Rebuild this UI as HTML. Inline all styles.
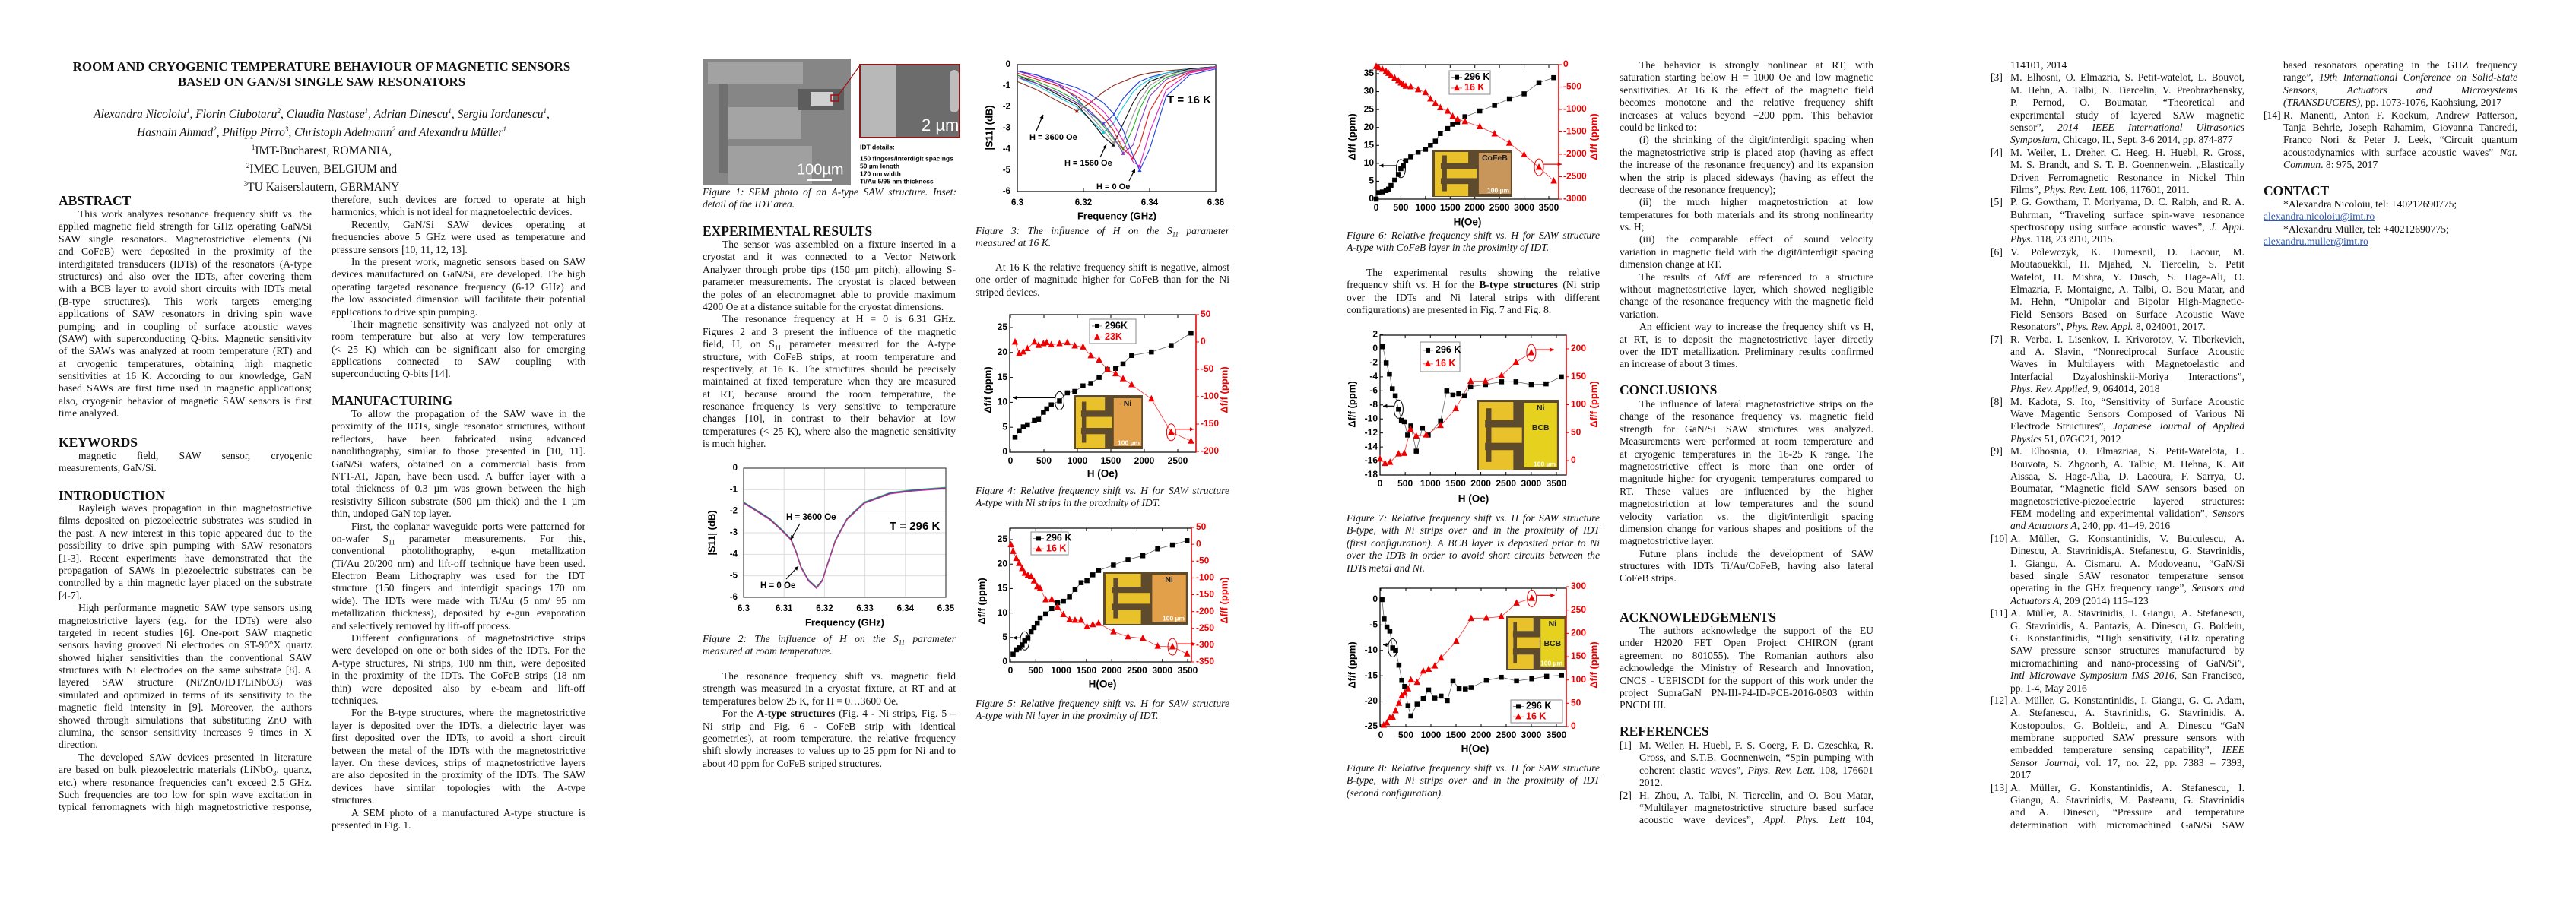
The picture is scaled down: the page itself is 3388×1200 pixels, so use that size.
<!DOCTYPE html>
<html><head><meta charset="utf-8"><title>Room and cryogenic temperature behaviour of magnetic sensors</title>
<style>
html,body{margin:0;padding:0;background:#fff}
body{width:3388px;height:1200px;position:relative;overflow:hidden}
#charts{position:absolute;left:0;top:0}
.b{position:absolute;font-family:"Liberation Serif",serif;font-size:13.6px;line-height:16.4px;color:#111}
.b>div{white-space:nowrap;text-align:justify;text-align-last:justify;height:16.4px;overflow:visible}
.b>div.e{text-align-last:left}
.b>div.c{text-align:center;text-align-last:center}
.b>div.i{text-indent:26px}
.cap{font-style:italic}
.r>div{padding-left:26px;position:relative}
.r>div>span.n{position:absolute;left:0;top:0}
.h{position:absolute;font-family:"Liberation Serif",serif;font-weight:bold;font-size:17.5px;line-height:20px;color:#111;white-space:nowrap}
.t{position:absolute;font-family:"Liberation Serif",serif;font-weight:bold;font-size:17px;line-height:19.5px;text-align:center;width:760px;left:43px;color:#111}
.au{position:absolute;font-family:"Liberation Serif",serif;font-size:15.5px;line-height:19.8px;text-align:center;width:760px;left:43px;color:#111}
a{color:#2b57b8;text-decoration:underline}
</style></head><body>
<svg id="charts" width="3388" height="1200" viewBox="0 0 3388 1200"></svg>

<!-- PAGE 1 -->
<div class="t" style="top:78px">ROOM AND CRYOGENIC TEMPERATURE BEHAVIOUR OF MAGNETIC SENSORS<br>BASED ON GAN/SI SINGLE SAW RESONATORS</div>
<div class="au" style="top:137px"><i>Alexandra Nicoloiu<sup style="font-size:9px">1</sup>, Florin Ciubotaru<sup style="font-size:9px">2</sup>, Claudia Nastase<sup style="font-size:9px">1</sup>, Adrian Dinescu<sup style="font-size:9px">1</sup>, Sergiu Iordanescu<sup style="font-size:9px">1</sup>,<br>Hasnain Ahmad<sup style="font-size:9px">2</sup>, Philipp Pirro<sup style="font-size:9px">3</sup>, Christoph Adelmann<sup style="font-size:9px">2</sup> and Alexandru Müller<sup style="font-size:9px">1</sup></i><br><sup style="font-size:9px">1</sup>IMT-Bucharest, ROMANIA,<br><sup style="font-size:9px">2</sup>IMEC Leuven, BELGIUM and<br><sup style="font-size:9px">3</sup>TU Kaiserslautern, GERMANY</div>

<div class="h" style="left:77px;top:254px">ABSTRACT</div>
<div class="b" style="left:77px;top:274px;width:333px">
<div class="i">This work analyzes resonance frequency shift vs. the</div>
<div>applied magnetic field strength for GHz operating GaN/Si</div>
<div>SAW single resonators. Magnetostrictive elements (Ni</div>
<div>and CoFeB) were deposited in the proximity of the</div>
<div>interdigitated transducers (IDTs) of the resonators (A-type</div>
<div>structures) and also over the IDTs, after covering them</div>
<div>with a BCB layer to avoid short circuits with IDTs metal</div>
<div>(B-type structures). This work targets emerging</div>
<div>applications of SAW resonators in driving spin wave</div>
<div>pumping and in coupling of surface acoustic waves</div>
<div>(SAW) with superconducting Q-bits. Magnetic sensitivity</div>
<div>of the SAWs was analyzed at room temperature (RT) and</div>
<div>at cryogenic temperatures, obtaining high magnetic</div>
<div>sensitivities at 16 K. According to our knowledge, GaN</div>
<div>based SAWs are first time used in magnetic applications;</div>
<div>also, cryogenic behavior of magnetic SAW sensors is first</div>
<div class="e">time analyzed.</div>
</div>
<div class="h" style="left:77px;top:572px">KEYWORDS</div>
<div class="b" style="left:77px;top:592px;width:333px">
<div class="i">magnetic field, SAW sensor, cryogenic</div>
<div class="e">measurements, GaN/Si.</div>
</div>
<div class="h" style="left:77px;top:642px">INTRODUCTION</div>
<div class="b" style="left:77px;top:661px;width:333px">
<div class="i">Rayleigh waves propagation in thin magnetostrictive</div>
<div>films deposited on piezoelectric substrates was studied in</div>
<div>the past. A new interest in this topic appeared due to the</div>
<div>possibility to drive spin pumping with SAW resonators</div>
<div>[1-3]. Recent experiments have demonstrated that the</div>
<div>propagation of SAWs in piezoelectric substrates can be</div>
<div>controlled by a thin magnetic layer placed on the substrate</div>
<div class="e">[4-7].</div>
<div class="i">High performance magnetic SAW type sensors using</div>
<div>magnetostrictive layers (e.g. for the IDTs) were also</div>
<div>targeted in recent studies [6]. One-port SAW magnetic</div>
<div>sensors having grooved Ni electrodes on ST-90°X quartz</div>
<div>showed higher sensitivities than the conventional SAW</div>
<div>structures with Ni electrodes on the same substrate [8]. A</div>
<div>layered SAW structure (Ni/ZnO/IDT/LiNbO3) was</div>
<div>simulated and optimized in terms of its sensitivity to the</div>
<div>magnetic field intensity in [9]. Moreover, the authors</div>
<div>showed through simulations that substituting ZnO with</div>
<div>alumina, the sensor sensitivity increases 9 times in X</div>
<div class="e">direction.</div>
<div class="i">The developed SAW devices presented in literature</div>
<div>are based on bulk piezoelectric materials (LiNbO<sub style="font-size:9px">3</sub>, quartz,</div>
<div>etc.) where resonance frequencies can’t exceed 2.5 GHz.</div>
<div>Such frequencies are too low for spin wave excitation in</div>
<div>typical ferromagnets with high magnetostrictive response,</div>
</div>

<div class="b" style="left:436px;top:255px;width:334px">
<div>therefore, such devices are forced to operate at high</div>
<div class="e">harmonics, which is not ideal for magnetoelectric devices.</div>
<div class="i">Recently, GaN/Si SAW devices operating at</div>
<div>frequencies above 5 GHz were used as temperature and</div>
<div class="e">pressure sensors [10, 11, 12, 13].</div>
<div class="i">In the present work, magnetic sensors based on SAW</div>
<div>devices manufactured on GaN/Si, are developed. The high</div>
<div>operating targeted resonance frequency (6-12 GHz) and</div>
<div>the low associated dimension will facilitate their potential</div>
<div class="e">applications to drive spin pumping.</div>
<div class="i">Their magnetic sensitivity was analyzed not only at</div>
<div>room temperature but also at very low temperatures</div>
<div>(&lt; 25 K) which can be significant also for emerging</div>
<div>applications connected to SAW coupling with</div>
<div class="e">superconducting Q-bits [14].</div>
</div>
<div class="h" style="left:436px;top:517px">MANUFACTURING</div>
<div class="b" style="left:436px;top:537px;width:334px">
<div class="i">To allow the propagation of the SAW wave in the</div>
<div>proximity of the IDTs, single resonator structures, without</div>
<div>reflectors, have been fabricated using advanced</div>
<div>nanolithography, similar to those presented in [10, 11].</div>
<div>GaN/Si wafers, obtained on a commercial basis from</div>
<div>NTT-AT, Japan, have been used. A buffer layer with a</div>
<div>total thickness of 0.3 µm was grown between the high</div>
<div>resistivity Silicon substrate (500 µm thick) and the 1 µm</div>
<div class="e">thin, undoped GaN top layer.</div>
<div class="i">First, the coplanar waveguide ports were patterned for</div>
<div>on-wafer S<sub style="font-size:9px">11</sub> parameter measurements. For this,</div>
<div>conventional photolithography, e-gun metallization</div>
<div>(Ti/Au 20/200 nm) and lift-off technique have been used.</div>
<div>Electron Beam Lithography was used for the IDT</div>
<div>structure (150 fingers and interdigit spacings 170 nm</div>
<div>wide). The IDTs were made with Ti/Au (5 nm/ 95 nm</div>
<div>metallization thickness), deposited by e-gun evaporation</div>
<div class="e">and selectively removed by lift-off process.</div>
<div class="i">Different configurations of magnetostrictive strips</div>
<div>were developed on one or both sides of the IDTs. For the</div>
<div>A-type structures, Ni strips, 100 nm thin, were deposited</div>
<div>in the proximity of the IDTs. The CoFeB strips (18 nm</div>
<div>thin) were deposited also by e-beam and lift-off</div>
<div class="e">techniques.</div>
<div class="i">For the B-type structures, where the magnetostrictive</div>
<div>layer is deposited over the IDTs, a dielectric layer was</div>
<div>first deposited over the IDTs, to avoid a short circuit</div>
<div>between the metal of the IDTs with the magnetostrictive</div>
<div>layer. On these devices, strips of magnetostrictive layers</div>
<div>are also deposited in the proximity of the IDTs. The SAW</div>
<div>devices have similar topologies with the A-type</div>
<div class="e">structures.</div>
<div class="i">A SEM photo of a manufactured A-type structure is</div>
<div class="e">presented in Fig. 1.</div>
</div>

<!-- PAGE 2 -->
<div class="b cap" style="left:924px;top:245px;width:334px">
<div>Figure 1: SEM photo of an A-type SAW structure. Inset:</div>
<div class="e">detail of the IDT area.</div>
</div>
<div class="h" style="left:924px;top:294px">EXPERIMENTAL RESULTS</div>
<div class="b" style="left:924px;top:314px;width:333px">
<div class="i">The sensor was assembled on a fixture inserted in a</div>
<div>cryostat and it was connected to a Vector Network</div>
<div>Analyzer through probe tips (150 µm pitch), allowing S-</div>
<div>parameter measurements. The cryostat is placed between</div>
<div>the poles of an electromagnet able to provide maximum</div>
<div class="e">4200 Oe at a distance suitable for the cryostat dimensions.</div>
<div class="i">The resonance frequency at H = 0 is 6.31 GHz.</div>
<div>Figures 2 and 3 present the influence of the magnetic</div>
<div>field, H, on S<sub style="font-size:9px">11</sub> parameter measured for the A-type</div>
<div>structure, with CoFeB strips, at room temperature and</div>
<div>respectively, at 16 K. The structures should be precisely</div>
<div>maintained at fixed temperature when they are measured</div>
<div>at RT, because around the room temperature, the</div>
<div>resonance frequency is very sensitive to temperature</div>
<div>changes [10], in contrast to their behavior at low</div>
<div>temperatures (&lt; 25 K), where also the magnetic sensitivity</div>
<div class="e">is much higher.</div>
</div>
<div class="b cap" style="left:924px;top:833px;width:333px">
<div>Figure 2: The influence of H on the S<sub style="font-size:9px">11</sub> parameter</div>
<div class="e">measured at room temperature.</div>
</div>
<div class="b" style="left:924px;top:882px;width:333px">
<div class="i">The resonance frequency shift vs. magnetic field</div>
<div>strength was measured in a cryostat fixture, at RT and at</div>
<div class="e">temperatures below 25 K, for H = 0…3600 Oe.</div>
<div class="i">For the <b>A-type structures</b> (Fig. 4 - Ni strips, Fig. 5 –</div>
<div>Ni strip and Fig. 6 - CoFeB strip with identical</div>
<div>geometries), at room temperature, the relative frequency</div>
<div>shift slowly increases to values up to 25 ppm for Ni and to</div>
<div class="e">about 40 ppm for CoFeB striped structures.</div>
</div>
<div class="b cap" style="left:1283px;top:296px;width:334px">
<div>Figure 3: The influence of H on the S<sub style="font-size:9px">11</sub> parameter</div>
<div class="e">measured at 16 K.</div>
</div>
<div class="b" style="left:1283px;top:344px;width:334px">
<div class="i">At 16 K the relative frequency shift is negative, almost</div>
<div>one order of magnitude higher for CoFeB than for the Ni</div>
<div class="e">striped devices.</div>
</div>
<div class="b cap" style="left:1283px;top:638px;width:334px">
<div>Figure 4: Relative frequency shift vs. H for SAW structure</div>
<div class="e">A-type with Ni strips in the proximity of IDT.</div>
</div>
<div class="b cap" style="left:1283px;top:918px;width:334px">
<div>Figure 5: Relative frequency shift vs. H for SAW structure</div>
<div class="e">A-type with Ni layer in the proximity of IDT.</div>
</div>

<!-- PAGE 3 -->
<div class="b cap" style="left:1771px;top:302px;width:333px">
<div>Figure 6: Relative frequency shift vs. H for SAW structure</div>
<div class="e">A-type with CoFeB layer in the proximity of IDT.</div>
</div>
<div class="b" style="left:1771px;top:351px;width:333px">
<div class="i">The experimental results showing the relative</div>
<div>frequency shift vs. H for the <b>B-type structures</b> (Ni strip</div>
<div>over the IDTs and Ni lateral strips with different</div>
<div class="e">configurations) are presented in Fig. 7 and Fig. 8.</div>
</div>
<div class="b cap" style="left:1771px;top:674px;width:333px">
<div>Figure 7: Relative frequency shift vs. H for SAW structure</div>
<div>B-type, with Ni strips over and in the proximity of IDT</div>
<div>(first configuration). A BCB layer is deposited prior to Ni</div>
<div>over the IDTs in order to avoid short circuits between the</div>
<div class="e">IDTs metal and Ni.</div>
</div>
<div class="b cap" style="left:1771px;top:1003px;width:333px">
<div>Figure 8: Relative frequency shift vs. H for SAW structure</div>
<div>B-type, with Ni strips over and in the proximity of IDT</div>
<div class="e">(second configuration).</div>
</div>

<div class="b" style="left:2130px;top:78px;width:334px">
<div class="i">The behavior is strongly nonlinear at RT, with</div>
<div>saturation starting below H = 1000 Oe and low magnetic</div>
<div>sensitivities. At 16 K the effect of the magnetic field</div>
<div>becomes monotone and the relative frequency shift</div>
<div>increases at values beyond +200 ppm. This behavior</div>
<div class="e">could be linked to:</div>
<div class="i">(i) the shrinking of the digit/interdigit spacing when</div>
<div>the magnetostrictive strip is placed atop (having as effect</div>
<div>the increase of the resonance frequency) and its expansion</div>
<div>when the strip is placed sideways (having as effect the</div>
<div class="e">decrease of the resonance frequency);</div>
<div class="i">(ii) the much higher magnetostriction at low</div>
<div>temperatures for both materials and its strong nonlinearity</div>
<div class="e">vs. H;</div>
<div class="i">(iii) the comparable effect of sound velocity</div>
<div>variation in magnetic field with the digit/interdigit spacing</div>
<div class="e">dimension change at RT.</div>
<div class="i">The results of Δf/f are referenced to a structure</div>
<div>without magnetostrictive layer, which showed negligible</div>
<div>change of the resonance frequency with the magnetic field</div>
<div class="e">variation.</div>
<div class="i">An efficient way to increase the frequency shift vs H,</div>
<div>at RT, is to deposit the magnetostrictive layer directly</div>
<div>over the IDT metallization. Preliminary results confirmed</div>
<div class="e">an increase of about 3 times.</div>
</div>
<div class="h" style="left:2130px;top:503px">CONCLUSIONS</div>
<div class="b" style="left:2130px;top:524px;width:334px">
<div class="i">The influence of lateral magnetostrictive strips on the</div>
<div>change of the resonance frequency vs. magnetic field</div>
<div>strength for GaN/Si SAW structures was analyzed.</div>
<div>Measurements were performed at room temperature and</div>
<div>at cryogenic temperatures in the 16-25 K range. The</div>
<div>magnetostrictive effect is more than one order of</div>
<div>magnitude higher for cryogenic temperatures compared to</div>
<div>RT. These values are influenced by the higher</div>
<div>magnetostriction at low temperatures and the sound</div>
<div>velocity variation vs. the digit/interdigit spacing</div>
<div>dimension change for various shapes and positions of the</div>
<div class="e">magnetostrictive layer.</div>
<div class="i">Future plans include the development of SAW</div>
<div>structures with IDTs Ti/Au/CoFeB, having also lateral</div>
<div class="e">CoFeB strips.</div>
</div>
<div class="h" style="left:2130px;top:802px">ACKNOWLEDGEMENTS</div>
<div class="b" style="left:2130px;top:822px;width:334px">
<div class="i">The authors acknowledge the support of the EU</div>
<div>under H2020 FET Open Project CHIRON (grant</div>
<div>agreement no 801055). The Romanian authors also</div>
<div>acknowledge the Ministry of Research and Innovation,</div>
<div>CNCS - UEFISCDI for the support of this work under the</div>
<div>project SupraGaN PN-III-P4-ID-PCE-2016-0803 within</div>
<div class="e">PNCDI III.</div>
</div>
<div class="h" style="left:2130px;top:952px">REFERENCES</div>
<div class="b r" style="left:2130px;top:973px;width:334px">
<div><span class="n">[1]</span>M. Weiler, H. Huebl, F. S. Goerg, F. D. Czeschka, R.</div>
<div>Gross, and S.T.B. Goennenwein, “Spin pumping with</div>
<div>coherent elastic waves”, <i>Phys. Rev. Lett.</i> 108, 176601</div>
<div class="e">2012.</div>
<div><span class="n">[2]</span>H. Zhou, A. Talbi, N. Tiercelin, and O. Bou Matar,</div>
<div>“Multilayer magnetostrictive structure based surface</div>
<div>acoustic wave devices”, <i>Appl. Phys. Lett</i> 104,</div>
</div>

<!-- PAGE 4 -->
<div class="b r" style="left:2618px;top:78px;width:334px">
<div class="e">114101, 2014</div>
<div><span class="n">[3]</span>M. Elhosni, O. Elmazria, S. Petit-watelot, L. Bouvot,</div>
<div>M. Hehn, A. Talbi, N. Tiercelin, V. Preobrazhensky,</div>
<div>P. Pernod, O. Boumatar, “Theoretical and</div>
<div>experimental study of layered SAW magnetic</div>
<div>sensor”, <i>2014 IEEE International Ultrasonics</i></div>
<div class="e"><i>Symposium</i>, Chicago, IL, Sept. 3-6 2014, pp. 874-877</div>
<div><span class="n">[4]</span>M. Weiler, L. Dreher, C. Heeg, H. Huebl, R. Gross,</div>
<div>M. S. Brandt, and S. T. B. Goennenwein, „Elastically</div>
<div>Driven Ferromagnetic Resonance in Nickel Thin</div>
<div class="e">Films”, <i>Phys. Rev. Lett.</i> 106, 117601, 2011.</div>
<div><span class="n">[5]</span>P. G. Gowtham, T. Moriyama, D. C. Ralph, and R. A.</div>
<div>Buhrman, “Traveling surface spin-wave resonance</div>
<div>spectroscopy using surface acoustic waves”, <i>J. Appl.</i></div>
<div class="e"><i>Phys.</i> 118, 233910, 2015.</div>
<div><span class="n">[6]</span>V. Polewczyk, K. Dumesnil, D. Lacour, M.</div>
<div>Moutaouekkil, H. Mjahed, N. Tiercelin, S. Petit</div>
<div>Watelot, H. Mishra, Y. Dusch, S. Hage-Ali, O.</div>
<div>Elmazria, F. Montaigne, A. Talbi, O. Bou Matar, and</div>
<div>M. Hehn, “Unipolar and Bipolar High-Magnetic-</div>
<div>Field Sensors Based on Surface Acoustic Wave</div>
<div class="e">Resonators”, <i>Phys. Rev. Appl.</i> 8, 024001, 2017.</div>
<div><span class="n">[7]</span>R. Verba. I. Lisenkov, I. Krivorotov, V. Tiberkevich,</div>
<div>and A. Slavin, “Nonreciprocal Surface Acoustic</div>
<div>Waves in Multilayers with Magnetoelastic and</div>
<div>Interfacial Dzyaloshinskii-Moriya Interactions”,</div>
<div class="e"><i>Phys. Rev. Applied</i>, 9, 064014, 2018</div>
<div><span class="n">[8]</span>M. Kadota, S. Ito, “Sensitivity of Surface Acoustic</div>
<div>Wave Magentic Sensors Composed of Various Ni</div>
<div>Electrode Structures”, <i>Japanese Journal of Applied</i></div>
<div class="e"><i>Physics</i> 51, 07GC21, 2012</div>
<div><span class="n">[9]</span>M. Elhosnia, O. Elmazriaa, S. Petit-Watelota, L.</div>
<div>Bouvota, S. Zhgoonb, A. Talbic, M. Hehna, K. Ait</div>
<div>Aissaa, S. Hage-Alia, D. Lacoura, F. Sarrya, O.</div>
<div>Boumatar, “Magnetic field SAW sensors based on</div>
<div>magnetostrictive-piezoelectric layered structures:</div>
<div>FEM modeling and experimental validation”, <i>Sensors</i></div>
<div class="e"><i>and Actuators A</i>, 240, pp. 41–49, 2016</div>
<div><span class="n">[10]</span>A. Müller, G. Konstantinidis, V. Buiculescu, A.</div>
<div>Dinescu, A. Stavrinidis,A. Stefanescu, G. Stavrinidis,</div>
<div>I. Giangu, A. Cismaru, A. Modoveanu, “GaN/Si</div>
<div>based single SAW resonator temperature sensor</div>
<div>operating in the GHz frequency range”, <i>Sensors and</i></div>
<div class="e"><i>Actuators A</i>, 209 (2014) 115–123</div>
<div><span class="n">[11]</span>A. Müller, A. Stavrinidis, I. Giangu, A. Stefanescu,</div>
<div>G. Stavrinidis, A. Pantazis, A. Dinescu, G. Boldeiu,</div>
<div>G. Konstantinidis, “High sensitivity, GHz operating</div>
<div>SAW pressure sensor structures manufactured by</div>
<div>micromachining and nano-processing of GaN/Si”,</div>
<div><i>Intl Microwave Symposium IMS 2016</i>, San Francisco,</div>
<div class="e">pp. 1-4, May 2016</div>
<div><span class="n">[12]</span>A. Müller, G. Konstantinidis, I. Giangu, G. C. Adam,</div>
<div>A. Stefanescu, A. Stavrinidis, G. Stavrinidis, A.</div>
<div>Kostopoulos, G. Boldeiu, and A. Dinescu “GaN</div>
<div>membrane supported SAW pressure sensors with</div>
<div>embedded temperature sensing capability”, <i>IEEE</i></div>
<div><i>Sensor Journal</i>, vol. 17, no. 22, pp. 7383 – 7393,</div>
<div class="e">2017</div>
<div><span class="n">[13]</span>A. Müller, G. Konstantinidis, A. Stefanescu, I.</div>
<div>Giangu, A. Stavrinidis, M. Pasteanu, G. Stavrinidis</div>
<div>and A. Dinescu, “Pressure and temperature</div>
<div>determination with micromachined GaN/Si SAW</div>
</div>
<div class="b r" style="left:2977px;top:78px;width:334px">
<div>based resonators operating in the GHZ frequency</div>
<div>range”, <i>19th International Conference on Solid-State</i></div>
<div><i>Sensors, Actuators and Microsystems</i></div>
<div class="e"><i>(TRANSDUCERS)</i>, pp. 1073-1076, Kaohsiung, 2017</div>
<div><span class="n">[14]</span>R. Manenti, Anton F. Kockum, Andrew Patterson,</div>
<div>Tanja Behrle, Joseph Rahamim, Giovanna Tancredi,</div>
<div>Franco Nori &amp; Peter J. Leek, “Circuit quantum</div>
<div>acoustodynamics with surface acoustic waves” <i>Nat.</i></div>
<div class="e"><i>Commun</i>. 8: 975, 2017</div>
</div>
<div class="h" style="left:2977px;top:241px">CONTACT</div>
<div class="b" style="left:2977px;top:261px;width:334px">
<div class="e i">*Alexandra Nicoloiu, tel: +40212690775;</div>
<div class="e"><a>alexandra.nicoloiu@imt.ro</a></div>
<div class="e i">*Alexandru Müller, tel: +40212690775;</div>
<div class="e"><a>alexandru.muller@imt.ro</a></div>
</div>

<script>
// ---------- DATA ----------
const fig2Freq = [6.300,6.303,6.3064,6.309,6.3117,6.313,6.3142,6.316,6.318,6.3195,6.3205,6.3227,6.3256,6.3299,6.3363,6.342,6.350];
const fig2S11  = [-1.6,-1.95,-2.35,-2.8,-3.3,-3.9,-4.6,-5.2,-5.55,-5.2,-4.6,-3.35,-2.35,-1.6,-1.16,-1.03,-0.92];
const fig2XTicks = [6.30,6.31,6.32,6.33,6.34,6.35];
const fig2XTickLabels = ['6.3','6.31','6.32','6.33','6.34','6.35'];
const fig2YTicks = [0,-1,-2,-3,-4,-5,-6];

const fig3Freq = [6.300,6.306,6.312,6.318,6.322,6.326,6.329,6.332,6.335,6.337,6.340,6.345,6.352,6.360];
const fig3H3600 = [-0.8,-1.2,-1.7,-2.2,-1.8,-1.3,-1.0,-0.8,-0.6,-0.5,-0.4,-0.3,-0.2,-0.1];
const fig3HB    = [-0.3,-0.5,-0.9,-1.6,-2.3,-2.8,-2.4,-1.6,-1.1,-0.8,-0.6,-0.4,-0.2,-0.1];
const fig3HC    = [-0.6,-1.0,-1.5,-2.0,-2.6,-3.2,-2.8,-2.0,-1.3,-1.0,-0.7,-0.4,-0.2,-0.1];
const fig3H1560 = [-0.5,-0.9,-1.4,-1.9,-2.6,-3.4,-3.8,-2.8,-1.8,-1.3,-0.8,-0.5,-0.2,-0.1];
const fig3HE    = [-0.6,-0.9,-1.3,-1.8,-2.4,-3.1,-3.7,-3.6,-2.4,-1.7,-1.0,-0.5,-0.25,-0.1];
const fig3HF    = [-0.5,-0.8,-1.2,-1.7,-2.2,-2.9,-3.5,-4.0,-3.0,-2.1,-1.2,-0.6,-0.3,-0.1];
const fig3HG    = [-0.6,-0.9,-1.3,-1.8,-2.2,-2.8,-3.4,-4.2,-3.8,-2.8,-1.5,-0.7,-0.3,-0.1];
const fig3HH    = [-0.4,-0.7,-1.0,-1.5,-1.9,-2.5,-3.1,-4.0,-4.4,-3.8,-2.2,-0.9,-0.35,-0.15];
const fig3HI    = [-0.3,-0.6,-0.9,-1.3,-1.7,-2.2,-2.8,-3.6,-4.6,-4.8,-3.2,-1.2,-0.4,-0.15];
const fig3H0    = [-0.3,-0.5,-0.8,-1.1,-1.4,-1.8,-2.3,-3.1,-4.3,-5.0,-4.0,-1.5,-0.5,-0.2];
const fig3XTicks = [6.30,6.32,6.34,6.36];
const fig3XTickLabels = ['6.3','6.32','6.34','6.36'];
const fig3YTicks = [0,-1,-2,-3,-4,-5,-6];

const fig4H     = [68,130,191,254,358,420,493,542,610,733,850,961,1084,1201,1325,1448,1572,1682,1811,2106,2402,2698];
const fig4Black = [3.0,4.3,5.1,5.5,6.4,6.6,8.0,8.7,9.5,10.3,11.9,12.2,13.3,13.8,15.0,16.6,16.8,17.7,19.4,20.1,21.4,23.9];
const fig4Red   = [0,-21,-18,-12,0,-6,-3,-1,-5,-3,-1,-7,-9,-25,-33,-50,-58,-67,-78,-104,-165,-181];
const fig4XTicks = [0,500,1000,1500,2000,2500];
const fig4LeftTicks = [0,5,10,15,20,25];
const fig4RightTicks = [50,0,-50,-100,-150,-200];

const fig5HBlack = [52,115,172,230,282,345,408,465,529,586,695,816,931,1046,1166,1276,1396,1511,1626,1741,2034,2322,2614,2908,3201,3488];
const fig5Black  = [1.6,2.5,2.9,3.5,4.3,4.9,6.2,7.0,7.9,9.0,9.8,10.9,12.1,12.4,13.3,14.8,16.2,16.6,17.8,18.7,19.8,20.9,21.7,23.1,23.9,24.8];
const fig5HRed   = [10,52,115,172,230,282,345,408,465,529,586,695,816,931,1046,1166,1276,1396,1511,1626,1741,2034,2322,2614,2908,3201,3488];
const fig5Red    = [-1,-21,-42,-57,-72,-86,-92,-96,-109,-126,-131,-165,-164,-187,-209,-224,-226,-226,-245,-239,-235,-260,-275,-280,-303,-305,-326];
const fig5XTicks = [0,500,1000,1500,2000,2500,3000,3500];
const fig5LeftTicks = [0,5,10,15,20,25];
const fig5RightTicks = [50,0,-50,-100,-150,-200,-250,-300,-350];

const fig6H     = [0,50,125,200,250,300,375,450,500,550,600,700,850,1000,1100,1200,1300,1450,1550,1650,1800,2100,2400,2700,3000,3300,3600];
const fig6Black = [0,1.8,2.0,2.4,2.8,3.8,5.3,6.9,8.5,9.3,10.7,11.8,13.1,13.9,15.0,16.2,18.3,19.7,20.9,21.5,23.0,24.6,26.2,28.0,29.4,32.5,33.9];
const fig6Red   = [-39,-65,-104,-149,-195,-246,-298,-357,-409,-441,-480,-493,-558,-623,-765,-863,-960,-1038,-1155,-1219,-1271,-1382,-1544,-1751,-2011,-2290,-2594];
const fig6XTicks = [0,500,1000,1500,2000,2500,3000,3500];
const fig6LeftTicks = [0,5,10,15,20,25,30,35];
const fig6RightTicks = [0,-500,-1000,-1500,-2000,-2500,-3000];

const fig7H     = [57,123,188,245,303,368,425,482,548,613,720,842,957,1202,1325,1447,1562,1676,1799,2093,2412,2698,3001,3295,3598];
const fig7Black = [0.3,-2.0,-3.6,-5.7,-6.7,-8.6,-10.2,-10.4,-12.3,-11.0,-14.6,-11.3,-12.3,-10.3,-6.0,-6.6,-6.4,-6.7,-5.4,-5.1,-4.7,-4.7,-5.1,-5.0,-4.0];
const fig7HRed  = [0,100,200,368,482,605,720,916,1202,1505,1799,2093,2412,2698,3001];
const fig7Red   = [3,-5,-3,12,13,56,44,46,63,93,142,142,152,176,193];
const fig7XTicks = [0,500,1000,1500,2000,2500,3000,3500];
const fig7LeftTicks = [2,0,-2,-4,-6,-8,-10,-12,-14,-16,-18];
const fig7RightTicks = [0,50,100,150,200];

const fig8H     = [25,66,123,181,238,296,362,419,477,543,600,724,847,954,1077,1201,1324,1439,1562,1686,1801,2105,2401,2706,3010,3306,3602];
const fig8Black = [0,-3.8,-5.4,-6.2,-9.5,-10.0,-12.9,-15.9,-17.1,-20.9,-22.9,-20.6,-19.5,-17.8,-19.4,-19.0,-19.9,-16.0,-17.5,-17.6,-17.3,-15.9,-15.3,-16.0,-15.6,-15.1,-14.9];
const fig8HRed  = [58,123,181,238,296,362,419,477,543,600,724,847,954,1077,1201,1505,1801,2105,2401,2706,3010];
const fig8Red   = [3,8,19,20,34,50,66,72,81,100,95,119,123,130,147,183,232,233,236,265,275];
const fig8XTicks = [0,500,1000,1500,2000,2500,3000,3500];
const fig8LeftTicks = [0,-5,-10,-15,-20,-25];
const fig8RightTicks = [0,50,100,150,200,250,300];

// ---------- HELPERS ----------
const NS = 'http://www.w3.org/2000/svg';
const svg = document.getElementById('charts');
function mk(tag, attrs, parent) {
  const el = document.createElementNS(NS, tag);
  for (const k in attrs) el.setAttribute(k, attrs[k]);
  (parent || svg).appendChild(el);
  return el;
}
function lin(d0, d1, p0, p1) { return v => p0 + (v - d0) * (p1 - p0) / (d1 - d0); }
function txt(x, y, s, attrs, name, parent) {
  const a = Object.assign({x: x, y: y, 'font-family': 'Liberation Sans, sans-serif', 'font-weight': 'bold', 'font-size': 12, fill: '#000', 'dominant-baseline': 'middle'}, attrs || {});
  const t = mk('text', a, parent);
  t.textContent = s;
  
  
  return t;
}
function group(name) {
  const g = mk('g', {});
  
  
  return g;
}
function square(g, x, y, s, fill, name) {
  const r = mk('rect', {x: x - s / 2, y: y - s / 2, width: s, height: s, fill: fill}, g);
  
  
  return r;
}
function tri(g, x, y, s, fill, name) {
  const p = mk('polygon', {points: `${x},${y - s * 0.6} ${x - s / 2},${y + s * 0.4} ${x + s / 2},${y + s * 0.4}`, fill: fill}, g);
  
  
  return p;
}
function polyline(g, pts, stroke, w, name) {
  const p = mk('polyline', {points: pts.map(q => q[0].toFixed(1) + ',' + q[1].toFixed(1)).join(' '), fill: 'none', stroke: stroke, 'stroke-width': w, 'stroke-linejoin': 'round'}, g);
  
  
  return p;
}
function line(g, x1, y1, x2, y2, stroke, w, name) {
  const l = mk('line', {x1: x1, y1: y1, x2: x2, y2: y2, stroke: stroke, 'stroke-width': w}, g);
  
  
  return l;
}
function arrow(g, x1, y1, x2, y2, color, name) {
  line(g, x1, y1, x2, y2, color, 1.2, name);
  const a = Math.atan2(y2 - y1, x2 - x1), L = 6;
  const h = mk('polygon', {points: `${x2},${y2} ${x2 - L * Math.cos(a - 0.45)},${y2 - L * Math.sin(a - 0.45)} ${x2 - L * Math.cos(a + 0.45)},${y2 - L * Math.sin(a + 0.45)}`, fill: color}, g);
  
  
}
function ellipse(g, cx, cy, rx, ry, color, name) {
  const e = mk('ellipse', {cx: cx, cy: cy, rx: rx, ry: ry, fill: 'none', stroke: color, 'stroke-width': 1}, g);
  
  
}
function inset(g, x, y, w, h, labels, name) {
  const sub = mk('g', {}, g);
  
  
  const bg = mk('rect', {x: x, y: y, width: w, height: h, fill: '#5e4a2c'}, sub);
  
  
  const lw = w * 0.42;
  const parts = [[x, y, lw, h * 0.3], [x, y + h * 0.36, lw * 1.25, h * 0.26], [x, y + h * 0.68, lw, h * 0.32], [x, y, lw * 0.18, h]];
  parts.forEach((p, i) => {
    const r = mk('rect', {x: p[0] + 3, y: p[1] + 3, width: p[2], height: Math.max(p[3] - 4, 2), fill: '#e9c12a'}, sub);
    
    
  });
  const stem = mk('rect', {x: x + w * 0.12, y: y + h * 0.12, width: w * 0.06, height: h * 0.76, fill: '#5e4a2c'}, sub);
  
  
  const pad = mk('rect', {x: x + w * 0.58, y: y + 4, width: w * 0.4, height: h - 8, fill: labels[0] === 'CoFeB' ? '#c8955a' : (labels.length > 1 ? '#e6d21e' : '#e3a04a')}, sub);
  
  
  labels.forEach((s, i) => txt(x + w * 0.78, y + 11 + i * 26, s, {'font-size': 10.5, fill: '#222', 'text-anchor': 'middle'}, name + '-label', sub));
  txt(x + w - 4, y + h - 8, '100 µm', {'font-size': 8.5, fill: '#fff', 'text-anchor': 'end'}, name + '-scale-label', sub);
}

function dualChart(c) {
  const g = group(c.name);
  const fr = mk('rect', {x: c.x0, y: c.y0, width: c.x1 - c.x0, height: c.y1 - c.y0, fill: 'none', stroke: '#000', 'stroke-width': 1.2}, g);
  
  
  line(g, c.x1, c.y0, c.x1, c.y1, '#e00', 1.4, c.name + '-right-axis-line');
  c.xTicks.forEach(v => {
    const px = c.xs(v);
    line(g, px, c.y1, px, c.y1 - 4, '#000', 1, c.name + '-x-tick');
    line(g, px, c.y0, px, c.y0 + 4, '#000', 1, c.name + '-x-tick-top');
    txt(px, c.y1 + 12, String(v), {'text-anchor': 'middle'}, c.name + '-x-tick-label', g);
  });
  c.leftTicks.forEach(v => {
    const py = c.yl(v);
    line(g, c.x0, py, c.x0 + 4, py, '#000', 1, c.name + '-left-tick');
    txt(c.x0 - 3, py, String(v), {'text-anchor': 'end'}, c.name + '-left-tick-label', g);
  });
  c.rightTicks.forEach(v => {
    const py = c.yr(v);
    line(g, c.x1, py, c.x1 + 4, py, '#e00', 1, c.name + '-right-tick');
    txt(c.x1 + 6, py, String(v), {'text-anchor': 'start', fill: '#e00'}, c.name + '-right-tick-label', g);
  });
  txt(c.xlab[0], c.xlab[1], c.xlabel, {'text-anchor': 'middle', 'font-size': 13.5}, c.name + '-x-axis-title', g);
  txt(c.yll[0], c.yll[1], 'Δf/f (ppm)', {'text-anchor': 'middle', 'font-size': 13, transform: `rotate(-90 ${c.yll[0]} ${c.yll[1]})`}, c.name + '-left-axis-title', g);
  txt(c.ylr[0], c.ylr[1], 'Δf/f (ppm)', {'text-anchor': 'middle', 'font-size': 13, fill: '#e00', transform: `rotate(-90 ${c.ylr[0]} ${c.ylr[1]})`}, c.name + '-right-axis-title', g);
  if (c.inset) inset(g, c.inset[0], c.inset[1], c.inset[2], c.inset[3], c.insetLabels, c.name + '-inset-photo');
  const bp = c.hBlack.map((h, i) => [c.xs(h), c.yl(c.black[i])]);
  const rp = c.hRed.map((h, i) => [c.xs(h), c.yr(c.red[i])]);
  polyline(g, bp, '#666', 0.8, c.name + '-296k-line');
  polyline(g, rp, '#f33', 0.8, c.name + '-cold-line');
  bp.forEach(p => square(g, p[0], p[1], 6.5, '#000', c.name + '-296k-point'));
  rp.forEach(p => tri(g, p[0], p[1], 8.5, '#e00', c.name + '-cold-point'));
  // annotations
  const b = bp[c.circB], r = rp[c.circR];
  ellipse(g, b[0], b[1], 6, 12, '#000', c.name + '-296k-marker-ellipse');
  arrow(g, b[0] - 6, b[1] - 4, c.x0 + 4, b[1] - 4, '#000', c.name + '-296k-axis-arrow');
  ellipse(g, r[0], r[1], 6, 11, '#e00', c.name + '-cold-marker-ellipse');
  arrow(g, r[0] + 6, r[1] - 4, r[0] + 30, r[1] - 4, '#e00', c.name + '-cold-axis-arrow');
  // legend
  const L = c.legend;
  const lb = mk('rect', {x: L[0], y: L[1], width: L[2], height: L[3], fill: '#fff', stroke: '#888', 'stroke-width': 1}, g);
  
  
  const ly1 = L[1] + L[3] * 0.28, ly2 = L[1] + L[3] * 0.74;
  line(g, L[0] + 3, ly1, L[0] + 17, ly1, '#666', 0.8, c.name + '-legend-296k-line');
  square(g, L[0] + 10, ly1, 6, '#000', c.name + '-legend-296k-marker');
  txt(L[0] + 20, ly1, c.legendLabels[0], {'font-size': 12.5}, c.name + '-legend-296k-label', g);
  line(g, L[0] + 3, ly2, L[0] + 17, ly2, '#f33', 0.8, c.name + '-legend-cold-line');
  tri(g, L[0] + 10, ly2, 8, '#e00', c.name + '-legend-cold-marker');
  txt(L[0] + 20, ly2, c.legendLabels[1], {'font-size': 12.5, fill: '#e00'}, c.name + '-legend-cold-label', g);
  return g;
}

// ---------- FIGURE 1 (SEM photo) ----------
(function () {
  const g = group('figure-1-sem-photo');
  const rects = [[924, 77, 195, 167, '#868686', 'sem-background'], [931, 82, 125, 28, '#a2a2a2', 'sem-top-pad'], [945, 110, 12, 118, '#707070', 'sem-bus-bar'], [958, 141, 96, 42, '#a4a4a4', 'sem-middle-pad'], [958, 192, 110, 50, '#a0a0a0', 'sem-bottom-pad'], [1050, 117, 60, 28, '#5d5d5d', 'sem-idt-area'], [1066, 121, 30, 18, '#d0d0d0', 'sem-idt-fingers']];
  rects.forEach(r => {
    const e = mk('rect', {x: r[0], y: r[1], width: r[2], height: r[3], fill: r[4]}, g);
    
    
  });
  const sq = mk('rect', {x: 1093, y: 125, width: 10, height: 8, fill: 'none', stroke: '#a01010', 'stroke-width': 1.5}, g);
  
  
  line(g, 1103, 125, 1131, 86, '#a01010', 1.2, 'sem-zoom-line');
  txt(1048, 224, '100µm', {'font-size': 20, fill: '#fff', 'font-weight': 'normal'}, 'sem-scale-label', g);
  line(g, 1062, 237, 1094, 237, '#fff', 2, 'sem-scale-bar');
  const ins = mk('rect', {x: 1131, y: 85, width: 131, height: 96, fill: '#6c6c6c', stroke: '#8b1a1a', 'stroke-width': 2}, g);
  
  
  const st = mk('rect', {x: 1132, y: 86, width: 46, height: 94, fill: '#b8b8b8'}, g);
  
  
  const rd = mk('rect', {x: 1249, y: 92, width: 12, height: 56, rx: 6, fill: '#bdbdbd'}, g);
  
  
  txt(1212, 166, '2 µm', {'font-size': 22, fill: '#fff', 'font-weight': 'normal'}, 'sem-inset-scale-label', g);
  const idt = ['IDT details:', '150 fingers/interdigit spacings', '   50 µm length', '170 nm width', 'Ti/Au 5/95 nm thickness'];
  const idy = [194, 209, 219, 229, 239];
  idt.forEach((s, i) => txt(1131, idy[i], s, {'font-size': 8.5}, 'idt-details-text', g));
})();

// ---------- FIGURE 2 ----------
(function () {
  const g = group('figure-2-s11-room-temperature');
  const xs = lin(6.30, 6.35, 978, 1244), ys = lin(0, -6, 616, 786);
  fig2XTicks.forEach((v, i) => {
    line(g, xs(v), 616, xs(v), 786, '#ddd', 1, 'fig2-vertical-gridline');
    txt(xs(v), 801, fig2XTickLabels[i], {'text-anchor': 'middle', 'font-size': 11.5}, 'fig2-x-tick-label', g);
  });
  fig2YTicks.forEach(v => {
    line(g, 978, ys(v), 1244, ys(v), '#ddd', 1, 'fig2-horizontal-gridline');
    txt(970, ys(v), String(v), {'text-anchor': 'end', 'font-size': 11.5}, 'fig2-y-tick-label', g);
  });
  const fr = mk('rect', {x: 978, y: 616, width: 266, height: 170, fill: 'none', stroke: '#444', 'stroke-width': 1.2}, g);
  
  
  const cols = ['#46b04a', '#2b4bc7', '#c0308a'];
  cols.forEach((c, k) => polyline(g, fig2Freq.map((f, i) => [xs(f), ys(fig2S11[i]) + k * 0.8 - 0.8]), c, 1.3, 'fig2-s11-curve'));
  txt(1034, 681, 'H = 3600 Oe', {'font-size': 11.5}, 'fig2-annotation-3600', g);
  arrow(g, 1052, 689, 1040, 710, '#000', 'fig2-arrow-3600');
  txt(1000, 771, 'H = 0 Oe', {'font-size': 11.5}, 'fig2-annotation-0', g);
  arrow(g, 1034, 762, 1050, 745, '#000', 'fig2-arrow-0');
  txt(1170, 693, 'T = 296 K', {'font-size': 15}, 'fig2-temperature-label', g);
  txt(1111, 820, 'Frequency (GHz)', {'text-anchor': 'middle', 'font-size': 13}, 'fig2-x-axis-title', g);
  txt(937, 701, '|S11| (dB)', {'text-anchor': 'middle', 'font-size': 13, transform: 'rotate(-90 937 701)'}, 'fig2-y-axis-title', g);
})();

// ---------- FIGURE 3 ----------
(function () {
  const g = group('figure-3-s11-16k');
  const xs = lin(6.30, 6.36, 1338, 1599), ys = lin(0, -6, 85, 252);
  fig3XTicks.forEach((v, i) => {
    line(g, xs(v), 252, xs(v), 248, '#000', 1, 'fig3-x-tick');
    txt(xs(v), 267, fig3XTickLabels[i], {'text-anchor': 'middle', 'font-size': 11.5}, 'fig3-x-tick-label', g);
  });
  fig3YTicks.forEach(v => txt(1329, ys(v), String(v), {'text-anchor': 'end', 'font-size': 11.5}, 'fig3-y-tick-label', g));
  const fr = mk('rect', {x: 1338, y: 85, width: 261, height: 167, fill: 'none', stroke: '#000', 'stroke-width': 1.2}, g);
  
  
  const curves = [fig3H3600, fig3HB, fig3HC, fig3H1560, fig3HE, fig3HF, fig3HG, fig3HH, fig3HI, fig3H0];
  const cols = ['#8b2a1a', '#1c3fd6', '#19c6d8', '#111111', '#999999', '#20b020', '#8a3ac0', '#e02020', '#e020c0', '#2040e0'];
  curves.forEach((cv, k) => {
    const pts = fig3Freq.map((f, i) => [xs(f), ys(cv[i])]);
    polyline(g, pts, cols[k], 1.1, 'fig3-s11-curve');
    const m = cv.indexOf(Math.min(...cv));
    tri(g, pts[m][0], pts[m][1], 5, cols[k], 'fig3-curve-minimum-marker');
  });
  txt(1535, 132, 'T = 16 K', {'font-size': 15}, 'fig3-temperature-label', g);
  txt(1354, 181, 'H = 3600 Oe', {'font-size': 11}, 'fig3-annotation-3600', g);
  arrow(g, 1363, 172, 1372, 151, '#000', 'fig3-arrow-3600');
  txt(1400, 215, 'H = 1560 Oe', {'font-size': 11}, 'fig3-annotation-1560', g);
  arrow(g, 1447, 207, 1455, 190, '#000', 'fig3-arrow-1560');
  txt(1442, 246, 'H = 0 Oe', {'font-size': 11}, 'fig3-annotation-0', g);
  arrow(g, 1485, 238, 1493, 222, '#000', 'fig3-arrow-0');
  txt(1469, 285, 'Frequency (GHz)', {'text-anchor': 'middle', 'font-size': 13}, 'fig3-x-axis-title', g);
  txt(1302, 168, '|S11| (dB)', {'text-anchor': 'middle', 'font-size': 13, transform: 'rotate(-90 1302 168)'}, 'fig3-y-axis-title', g);
})();

// ---------- FIGURES 4-8 ----------
dualChart({name: 'figure-4-ni-strips', x0: 1328, x1: 1573, y0: 414, y1: 595,
  xs: lin(0, 2500, 1329, 1549), yl: lin(0, 25, 595, 431), yr: lin(50, -200, 414, 594),
  xTicks: fig4XTicks, leftTicks: fig4LeftTicks, rightTicks: fig4RightTicks,
  hBlack: fig4H, black: fig4Black, hRed: fig4H, red: fig4Red,
  xlabel: 'H (Oe)', xlab: [1450, 624], yll: [1300, 513], ylr: [1611, 513],
  legend: [1433, 420, 61, 32], legendLabels: ['296K', '23K'],
  inset: [1412, 520, 91, 71], insetLabels: ['Ni'], circB: 9, circR: 20});
dualChart({name: 'figure-5-ni-layer', x0: 1328, x1: 1567, y0: 695, y1: 871,
  xs: lin(0, 3500, 1329, 1562), yl: lin(0, 25, 871, 710), yr: lin(50, -350, 694, 871),
  xTicks: fig5XTicks, leftTicks: fig5LeftTicks, rightTicks: fig5RightTicks,
  hBlack: fig5HBlack, black: fig5Black, hRed: fig5HRed, red: fig5Red,
  xlabel: 'H(Oe)', xlab: [1450, 901], yll: [1292, 791], ylr: [1611, 790],
  legend: [1356, 700, 49, 30], legendLabels: ['296 K', '16 K'],
  inset: [1451, 752, 111, 70], insetLabels: ['Ni'], circB: 4, circR: 25});
dualChart({name: 'figure-6-cofeb-layer', x0: 1810, x1: 2050, y0: 85, y1: 262,
  xs: lin(0, 3500, 1810, 2037), yl: lin(0, 35, 262, 97), yr: lin(0, -3000, 85, 262),
  xTicks: fig6XTicks, leftTicks: fig6LeftTicks, rightTicks: fig6RightTicks,
  hBlack: fig6H, black: fig6Black, hRed: fig6H, red: fig6Red,
  xlabel: 'H(Oe)', xlab: [1930, 293], yll: [1779, 180], ylr: [2097, 180],
  legend: [1906, 93, 54, 31], legendLabels: ['296 K', '16 K'],
  inset: [1884, 197, 105, 62], insetLabels: ['CoFeB'], circB: 8, circR: 25});
dualChart({name: 'figure-7-b-type-first', x0: 1815, x1: 2060, y0: 441, y1: 625,
  xs: lin(0, 3500, 1815, 2047), yl: lin(0, -18, 459, 625), yr: lin(0, 200, 606, 459),
  xTicks: fig7XTicks, leftTicks: fig7LeftTicks, rightTicks: fig7RightTicks,
  hBlack: fig7H, black: fig7Black, hRed: fig7HRed, red: fig7Red,
  xlabel: 'H (Oe)', xlab: [1938, 657], yll: [1779, 532], ylr: [2097, 532],
  legend: [1868, 450, 52, 39], legendLabels: ['296 K', '16 K'],
  inset: [1942, 526, 108, 93], insetLabels: ['Ni', 'BCB'], circB: 5, circR: 14});
dualChart({name: 'figure-8-b-type-second', x0: 1815, x1: 2060, y0: 774, y1: 956,
  xs: lin(0, 3500, 1816, 2047), yl: lin(0, -25, 789, 956), yr: lin(0, 300, 956, 772),
  xTicks: fig8XTicks, leftTicks: fig8LeftTicks, rightTicks: fig8RightTicks,
  hBlack: fig8H, black: fig8Black, hRed: fig8HRed, red: fig8Red,
  xlabel: 'H(Oe)', xlab: [1940, 986], yll: [1779, 875], ylr: [2097, 875],
  legend: [1987, 921, 68, 30], legendLabels: ['296 K', '16 K'],
  inset: [1981, 810, 78, 71], insetLabels: ['Ni', 'BCB'], circB: 4, circR: 20});

// ---------- fit over-long justified lines ----------
document.querySelectorAll('.b>div').forEach(d => {
  let fs = 13.6, n = 0;
  while (d.scrollWidth > d.clientWidth + 1 && n < 12) { fs -= 0.25; d.style.fontSize = fs + 'px'; n++; }
});
</script>
</body></html>
